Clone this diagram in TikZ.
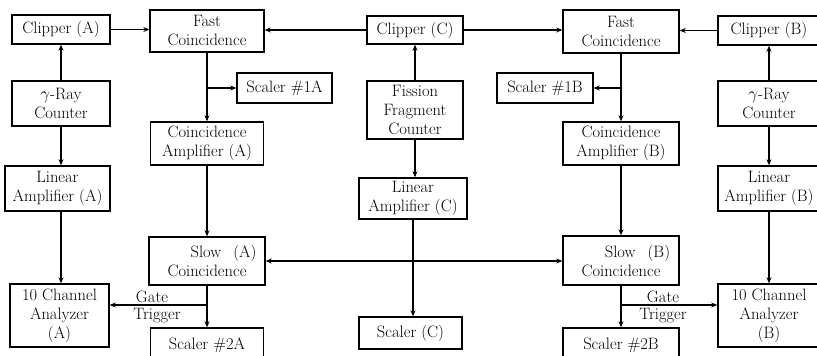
\documentclass[tikz,border=0pt]{standalone}
\usetikzlibrary{arrows.meta}

\tikzset{
  blk/.style={draw=black, line width=1.4pt, align=center, inner sep=0pt,
    font=\fontsize{16.5}{19}\selectfont},
  conn/.style={draw=black, line width=1.2pt, -{Stealth[length=6pt,width=5pt]}},
  lbl/.style={black, inner sep=0pt, font=\fontsize{16.5}{19}\selectfont}
}

\begin{document}
\begin{tikzpicture}[x=1pt, y=-1pt]
            \useasboundingbox (0,0) rectangle (817,356);
            % left branch (A)
            \node[blk, minimum width=98pt, minimum height=29pt] (clipA) at (61,29.5) {Clipper (A)};
            \node[blk, minimum width=98pt, minimum height=45pt] (gamA) at (61,103.5) {$\gamma$-Ray\\Counter};
            \node[blk, minimum width=105pt, minimum height=45pt] (linA) at (57.5,188.5) {Linear\\Amplifier (A)};
            \node[blk, minimum width=99pt, minimum height=63pt] (anaA) at (59.5,315.5) {10 Channel\\Analyzer\\(A)};
            \node[blk, minimum width=114pt, minimum height=42pt] (fastA) at (207,31) {Fast\\Coincidence};
            \node[blk, minimum width=95pt, minimum height=30pt] (scalOneA) at (284.5,88) {Scaler \#1A};
            \node[blk, minimum width=113pt, minimum height=43pt] (campA) at (207,143.5) {Coincidence\\Amplifier (A)};
            \node[blk, minimum width=116pt, minimum height=48pt] (slowA) at (207,261) {\hspace*{33pt}Slow\hspace{12pt}(A)\\Coincidence};
            \node[blk, minimum width=113pt, minimum height=34pt] (scalTwoA) at (207,345) {Scaler \#2A};
            % centre branch (C)
            \node[blk, minimum width=96pt, minimum height=28pt] (clipC) at (415,30) {Clipper (C)};
            \node[blk, minimum width=96pt, minimum height=58pt] (fission) at (415,110) {Fission\\Fragment\\Counter};
            \node[blk, minimum width=108pt, minimum height=41pt] (linC) at (413,198.5) {Linear\\Amplifier (C)};
            \node[blk, minimum width=103pt, minimum height=32pt] (scalC) at (410.5,333) {Scaler (C)};
            % right branch (B)
            \node[blk, minimum width=116pt, minimum height=43pt] (fastB) at (621,31.5) {Fast\\Coincidence};
            \node[blk, minimum width=96pt, minimum height=30pt] (scalOneB) at (545,88) {Scaler \#1B};
            \node[blk, minimum width=116pt, minimum height=43pt] (campB) at (621,143.5) {Coincidence\\Amplifier (B)};
            \node[blk, minimum width=116pt, minimum height=49pt] (slowB) at (621,260.5) {\hspace*{33pt}Slow\hspace{12pt}(B)\\Coincidence};
            \node[blk, minimum width=116pt, minimum height=34pt] (scalTwoB) at (621,345) {Scaler \#2B};
            \node[blk, minimum width=102pt, minimum height=29pt] (clipB) at (769,30.5) {Clipper (B)};
            \node[blk, minimum width=102pt, minimum height=45pt] (gamB) at (769,103.5) {$\gamma$-Ray\\Counter};
            \node[blk, minimum width=102pt, minimum height=45pt] (linB) at (769,188.5) {Linear\\Amplifier (B)};
            \node[blk, minimum width=102pt, minimum height=63pt] (anaB) at (769,315.5) {10 Channel\\Analyzer\\(B)};
            % junctions
            \coordinate (brA) at (fastA.south |- scalOneA.west);
            \coordinate (brB) at (fastB.south |- scalOneB.east);
            \coordinate (gtA) at (207,305);
            \coordinate (gtB) at (621,305);
            \coordinate (jn) at (linC.south |- slowA.east);
            % clippers to fast coincidences
            \draw[conn] (clipA.east) -- (clipA.east -| fastA.west);
            \draw[conn] (clipC.west) -- (clipC.west -| fastA.east);
            \draw[conn] (clipC.east) -- (clipC.east -| fastB.west);
            \draw[conn] (clipB.west) -- (clipB.west -| fastB.east);
            % counters
            \draw[conn] (gamA.north) -- (clipA.south);
            \draw[conn] (gamA.south) -- (gamA.south |- linA.north);
            \draw[conn] (linA.south -| gamA.south) -- (gamA.south |- anaA.north);
            \draw[conn] (fission.north) -- (clipC.south);
            \draw[conn] (fission.south) -- (fission.south |- linC.north);
            \draw[conn] (linC.south) -- (linC.south |- scalC.north);
            \draw[conn] (gamB.north) -- (clipB.south);
            \draw[conn] (gamB.south) -- (linB.north);
            \draw[conn] (linB.south) -- (anaB.north);
            % coincidence chain (A)
            \draw[conn] (fastA.south) -- (campA.north);
            \draw[conn] (brA) -- (scalOneA.west);
            \draw[conn] (campA.south) -- (slowA.north);
            \draw[conn] (slowA.south) -- (scalTwoA.north);
            \draw[conn] (gtA) -- (gtA -| anaA.east);
            % coincidence chain (B)
            \draw[conn] (fastB.south) -- (campB.north);
            \draw[conn] (brB) -- (scalOneB.east);
            \draw[conn] (campB.south) -- (slowB.north);
            \draw[conn] (slowB.south) -- (scalTwoB.north);
            \draw[conn] (gtB) -- (gtB -| anaB.west);
            % linear (C) to slow coincidences
            \draw[conn] (jn) -- (slowA.east);
            \draw[conn] (jn) -- (jn -| slowB.west);
            % gate labels
            \node[lbl] (gateA) at (152,297) {Gate};
            \node[lbl] (trigA) at (157,316) {Trigger};
            \node[lbl] (gateB) at (663,297) {Gate};
            \node[lbl] (trigB) at (663,316) {Trigger};
        \end{tikzpicture}
\end{document}
